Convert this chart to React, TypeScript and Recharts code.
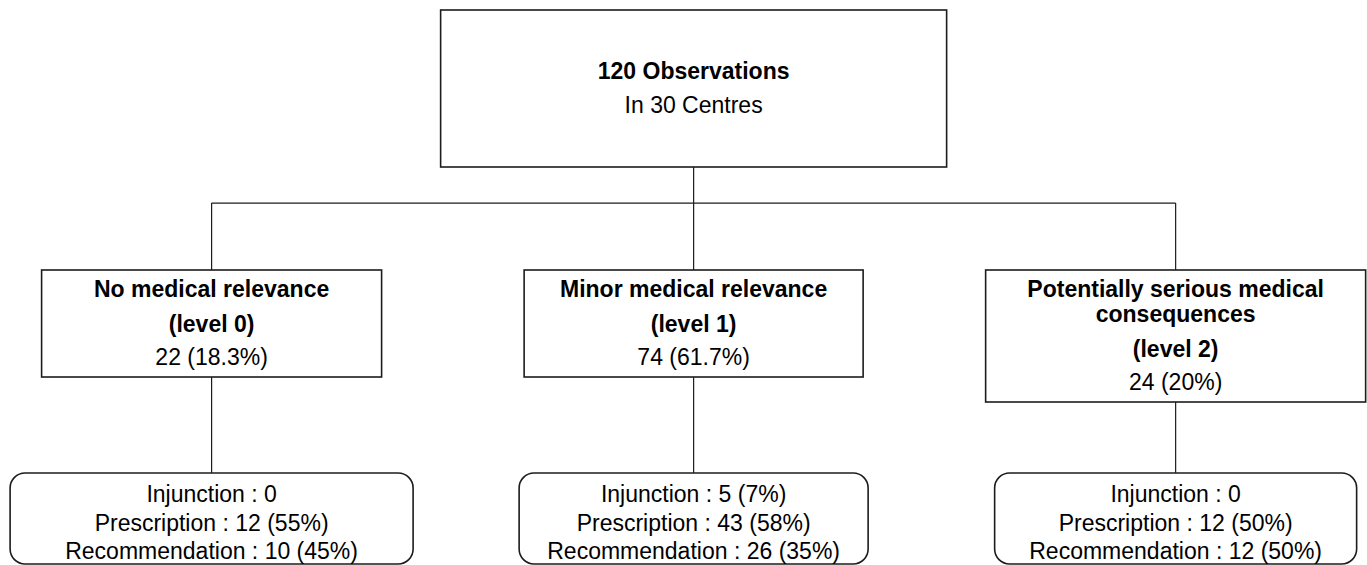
import { ScatterChart, Scatter, XAxis, YAxis, ReferenceLine } from "recharts";

// flow: all observations -> three relevance levels -> type of follow-up
const TOTAL_OBSERVATIONS = 120;
const TOTAL_CENTRES = 30;

const levelTitles = [
  ["No medical relevance"],
  ["Minor medical relevance"],
  ["Potentially serious medical", "consequences"],
];
const levelTags = ["(level 0)", "(level 1)", "(level 2)"];
const levelCounts = [22, 74, 24];
const levelShares = ["18.3%", "61.7%", "20%"];

const injunctions = [0, 5, 0];
const injunctionShares = ["", "7%", ""];
const prescriptions = [12, 43, 12];
const prescriptionShares = ["55%", "58%", "50%"];
const recommendations = [10, 26, 12];
const recommendationShares = ["45%", "35%", "50%"];

// layout / style
const W = 1367;
const H = 565;
const FONT = '"Liberation Sans", Arial, Helvetica, sans-serif';
const FS = 23;
const INK = "#1c1c1c";
const X_DOMAIN: [number, number] = [-0.439, 2.397];
const Y_DOMAIN: [number, number] = [-0.0432, 2.3974];
const BUS_TIER = 0.834;

const ROOT_W = 506;
const ROOT_H = 157;
const ROOT_STEM = 36;
const LEVEL_W = [340, 339, 380];
const LEVEL_H = [107, 107, 132];
const LEVEL_DROP = 28.5;
const LEVEL_STEM = 67;
const NOTE_W = [403, 349, 362];
const NOTE_H = 91;
const NOTE_STEM = [96, 96, 71];

const withShare = (n: number, share: string) => (share ? `${n} (${share})` : `${n}`);

const rootNodes = [{ col: 1, tier: 0 }];
const levelNodes = levelCounts.map((_, i) => ({ col: i, tier: 1, idx: i }));
const noteNodes = levelCounts.map((_, i) => ({ col: i, tier: 2, idx: i }));

const textProps = {
  fontFamily: FONT,
  fontSize: FS,
  fill: "#000",
  textAnchor: "middle" as const,
};

const RootShape = (props: any) => {
  const { cx, cy } = props;
  return (
    <g>
      <rect x={cx - ROOT_W / 2} y={cy} width={ROOT_W} height={ROOT_H} fill="#fff" stroke={INK} strokeWidth={1.6} />
      <text x={cx} y={cy + 69} fontWeight="bold" {...textProps}>
        {`${TOTAL_OBSERVATIONS} Observations`}
      </text>
      <text x={cx} y={cy + 103} {...textProps}>
        {`In ${TOTAL_CENTRES} Centres`}
      </text>
      <line x1={cx} y1={cy + ROOT_H} x2={cx} y2={cy + ROOT_H + ROOT_STEM} stroke={INK} strokeWidth={1.2} />
    </g>
  );
};

const LevelShape = (props: any) => {
  const { cx, cy } = props;
  const i = (props.payload ?? props).idx;
  const top = cy + LEVEL_DROP;
  const w = LEVEL_W[i];
  const titles = levelTitles[i];
  const lastTitle = top + 27 + (titles.length - 1) * 25;
  return (
    <g>
      <line x1={cx} y1={top} x2={cx} y2={top - LEVEL_STEM} stroke={INK} strokeWidth={1.2} />
      <rect x={cx - w / 2} y={top} width={w} height={LEVEL_H[i]} fill="#fff" stroke={INK} strokeWidth={1.6} />
      {titles.map((t, k) => (
        <text key={k} x={cx} y={top + 27 + k * 25} fontWeight="bold" {...textProps}>
          {t}
        </text>
      ))}
      <text x={cx} y={lastTitle + 35} fontWeight="bold" {...textProps}>
        {levelTags[i]}
      </text>
      <text x={cx} y={lastTitle + 67.5} {...textProps}>
        {withShare(levelCounts[i], levelShares[i])}
      </text>
    </g>
  );
};

const NoteShape = (props: any) => {
  const { cx, cy } = props;
  const i = (props.payload ?? props).idx;
  const w = NOTE_W[i];
  return (
    <g>
      <line x1={cx} y1={cy} x2={cx} y2={cy - NOTE_STEM[i]} stroke={INK} strokeWidth={1.2} />
      <rect x={cx - w / 2} y={cy} width={w} height={NOTE_H} rx={15} ry={15} fill="#fff" stroke={INK} strokeWidth={1.6} />
      <text x={cx} y={cy + 29} {...textProps}>
        {`Injunction : ${withShare(injunctions[i], injunctionShares[i])}`}
      </text>
      <text x={cx} y={cy + 57.5} {...textProps}>
        {`Prescription : ${withShare(prescriptions[i], prescriptionShares[i])}`}
      </text>
      <text x={cx} y={cy + 86} {...textProps}>
        {`Recommendation : ${withShare(recommendations[i], recommendationShares[i])}`}
      </text>
    </g>
  );
};

export default function App() {
  return (
    <div style={{ position: "absolute", left: 0, top: 0, width: W, height: H, background: "#fff" }}>
      <ScatterChart width={W} height={H} margin={{ top: 0, right: 0, bottom: 0, left: 0 }}>
        <XAxis type="number" dataKey="col" domain={X_DOMAIN} allowDataOverflow hide />
        <YAxis type="number" dataKey="tier" domain={Y_DOMAIN} allowDataOverflow reversed hide />
        <ReferenceLine
          segment={[
            { x: 0, y: BUS_TIER },
            { x: 2, y: BUS_TIER },
          ]}
          stroke={INK}
          strokeWidth={1.2}
        />
        <Scatter data={rootNodes} shape={RootShape} isAnimationActive={false} />
        <Scatter data={levelNodes} shape={LevelShape} isAnimationActive={false} />
        <Scatter data={noteNodes} shape={NoteShape} isAnimationActive={false} />
      </ScatterChart>
    </div>
  );
}
